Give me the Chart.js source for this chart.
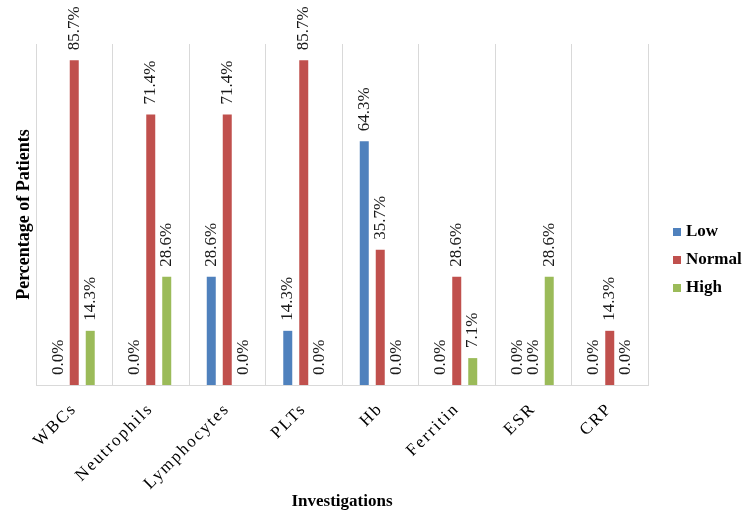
<!DOCTYPE html>
<html>
<head>
<meta charset="utf-8">
<script src="https://cdn.jsdelivr.net/npm/chart.js@4/dist/chart.umd.min.js"></script>
<style>
html,body{margin:0;padding:0;background:#fff;}
#wrap{width:750px;height:519px;position:relative;}
</style>
</head>
<body>
<div id="wrap"><canvas id="c" width="750" height="519"></canvas></div>
<script>
const categories = ['WBCs','Neutrophils','Lymphocytes','PLTs','Hb','Ferritin','ESR','CRP'];
const seriesNames = ['Low','Normal','High'];
const lowValues    = [0.0, 0.0, 28.6, 14.3, 64.3, 0.0, 0.0, 0.0];
const normalValues = [85.7, 71.4, 71.4, 85.7, 35.7, 28.6, 0.0, 14.3];
const highValues   = [14.3, 28.6, 0.0, 0.0, 0.0, 7.1, 28.6, 0.0];
const seriesColors = ['#4f81bd','#c0504d','#9bbb59'];

const SERIF = '"Liberation Serif", "Times New Roman", serif';

const dataLabelPlugin = {
  id: 'dataLabels',
  afterDatasetsDraw(chart) {
    const ctx = chart.ctx;
    ctx.save();
    ctx.letterSpacing = '0px';
    ctx.font = '17px ' + SERIF;
    ctx.fillStyle = '#1a1a1a';
    ctx.textAlign = 'left';
    ctx.textBaseline = 'middle';
    chart.data.datasets.forEach((ds, di) => {
      const meta = chart.getDatasetMeta(di);
      meta.data.forEach((bar, i) => {
        const txt = ds.data[i].toFixed(1) + '%';
        ctx.save();
        ctx.translate(bar.x, bar.y - 10);
        ctx.rotate(-Math.PI / 2);
        ctx.fillText(txt, 0, 0);
        ctx.restore();
      });
    });
    ctx.restore();
  }
};

const legendPlugin = {
  id: 'sideLegend',
  afterDraw(chart) {
    const ctx = chart.ctx;
    ctx.save();
    ctx.letterSpacing = '0px';
    ctx.font = 'bold 17px ' + SERIF;
    ctx.textAlign = 'left';
    ctx.textBaseline = 'middle';
    const x0 = chart.chartArea.right + 25;
    chart.data.datasets.forEach((ds, i) => {
      const y = 232 + i * 28;
      ctx.fillStyle = ds.backgroundColor;
      ctx.fillRect(x0, y - 4, 8, 8);
      ctx.fillStyle = '#000';
      ctx.fillText(ds.label, x0 + 13, y);
    });
    ctx.restore();
  }
};

const spacingPlugin = {
  id: 'tickSpacing',
  afterLayout(chart) {
    const sc = chart.scales.x;
    if (sc && !sc._spacedPatch) {
      const orig = sc.drawLabels;
      sc.drawLabels = function(area) {
        const ctx = this.ctx;
        ctx.save();
        ctx.letterSpacing = '2px';
        orig.call(this, area);
        ctx.restore();
      };
      sc._spacedPatch = true;
    }
  }
};

new Chart(document.getElementById('c'), {
  type: 'bar',
  data: {
    labels: categories,
    datasets: [
      { label: seriesNames[0], data: lowValues, backgroundColor: seriesColors[0] },
      { label: seriesNames[1], data: normalValues, backgroundColor: seriesColors[1] },
      { label: seriesNames[2], data: highValues, backgroundColor: seriesColors[2] }
    ]
  },
  options: {
    responsive: false,
    animation: false,
    devicePixelRatio: 1,
    layout: { padding: { left: 0, right: 102, top: 44, bottom: 0 } },
    datasets: { bar: { categoryPercentage: 0.627, barPercentage: 0.5625 } },
    plugins: { legend: { display: false }, tooltip: { enabled: false } },
    scales: {
      x: {
        grid: { display: true, offset: true, color: '#d9d9d9', lineWidth: 1, drawTicks: false },
        border: { display: true, color: '#d9d9d9', width: 1 },
        ticks: {
          color: '#000',
          font: { family: SERIF, size: 17 },
          minRotation: 45, maxRotation: 45,
          padding: 14,
          autoSkip: false
        },
        title: {
          display: true, text: 'Investigations', color: '#000',
          font: { family: SERIF, size: 17, weight: 'bold' },
          padding: { top: 0, bottom: 7 }
        },
        afterFit(scale) { scale.height = 134; }
      },
      y: {
        min: 0, max: 90,
        grid: { display: false },
        border: { display: false },
        ticks: { display: false },
        title: {
          display: true, text: 'Percentage of Patients', color: '#000',
          font: { family: SERIF, size: 18, weight: 'bold' },
          padding: { top: 14, bottom: 0 }
        },
        afterFit(scale) { scale.width = 36; }
      }
    }
  },
  plugins: [spacingPlugin, dataLabelPlugin, legendPlugin]
});
</script>
</body>
</html>
